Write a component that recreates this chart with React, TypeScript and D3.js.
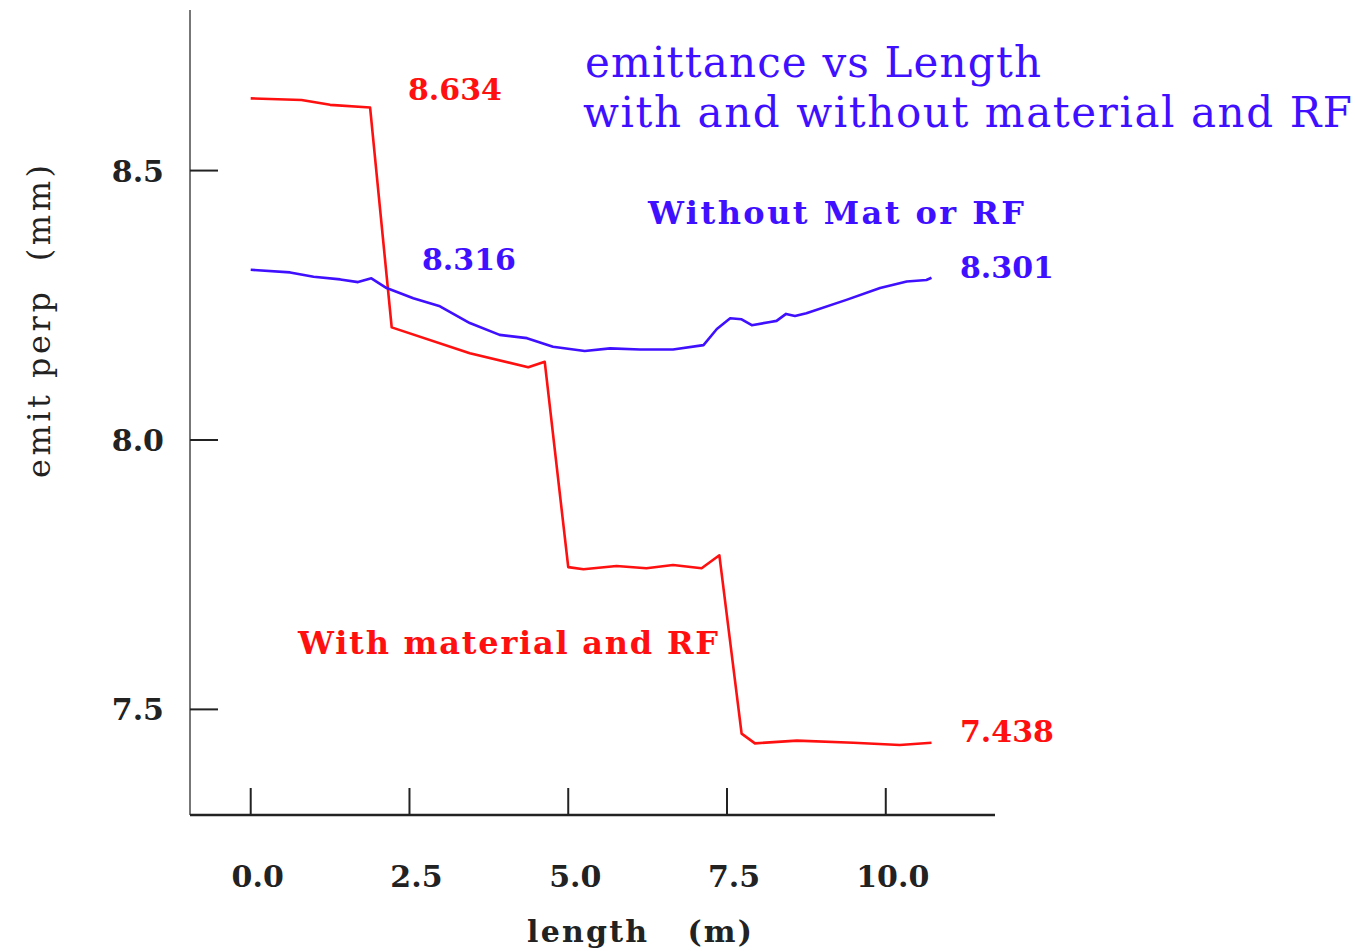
import React, { useEffect, useRef } from "react";
import * as d3 from "d3";

// length (m) / emit perp (mm)
const redX = [0, 0.8, 1.25, 1.88, 2.22, 3.45, 4.37, 4.63, 5.0, 5.24, 5.76, 6.23, 6.65, 7.1, 7.38, 7.73, 7.94, 8.6, 9.49, 10.22, 10.72];
const redY = [8.634, 8.631, 8.622, 8.617, 8.209, 8.161, 8.135, 8.145, 7.764, 7.76, 7.766, 7.762, 7.768, 7.762, 7.786, 7.455, 7.437, 7.442, 7.438, 7.434, 7.438];

const blueX = [0, 0.62, 0.99, 1.41, 1.69, 1.9, 2.14, 2.56, 2.98, 3.45, 3.92, 4.35, 4.76, 5.26, 5.66, 6.13, 6.65, 7.13, 7.34, 7.55, 7.73, 7.89, 8.18, 8.28, 8.43, 8.57, 8.75, 9.38, 9.91, 10.33, 10.64, 10.72];
const blueY = [8.316, 8.311, 8.303, 8.298, 8.293, 8.3, 8.282, 8.263, 8.248, 8.217, 8.195, 8.189, 8.173, 8.165, 8.17, 8.168, 8.168, 8.176, 8.206, 8.226, 8.224, 8.213, 8.219, 8.221, 8.234, 8.23, 8.235, 8.26, 8.282, 8.294, 8.297, 8.301];

const xTicks = [0, 2.5, 5, 7.5, 10];
const yTicks = [7.5, 8.0, 8.5];

const RED = "#ff1010";
const BLUE = "#3f10ff";
const FONT = "'DejaVu Serif', serif";

export default function App() {
  const ref = useRef<SVGSVGElement>(null);

  useEffect(() => {
    const width = 1355;
    const height = 951;
    const left = 190, right = 995, top = 10, bottom = 815;

    const x = d3.scaleLinear().domain([-0.956, 11.72]).range([left, right]);
    const y = d3.scaleLinear().domain([7.304, 8.798]).range([bottom, top]);

    const svg = d3.select(ref.current);
    svg.selectAll("*").remove();
    svg.attr("width", width).attr("height", height);

    // axes
    svg.append("line")
      .attr("x1", left).attr("x2", left).attr("y1", top).attr("y2", bottom)
      .attr("stroke", "#777").attr("stroke-width", 2);
    svg.append("line")
      .attr("x1", left).attr("x2", right).attr("y1", bottom).attr("y2", bottom)
      .attr("stroke", "#222").attr("stroke-width", 2.5);

    svg.selectAll(".xt").data(xTicks).enter().append("line")
      .attr("x1", (d) => x(d)).attr("x2", (d) => x(d))
      .attr("y1", bottom).attr("y2", bottom - 27)
      .attr("stroke", "#222").attr("stroke-width", 2);
    svg.selectAll(".xl").data(xTicks).enter().append("text")
      .attr("x", (d) => x(d) + 7).attr("y", 887)
      .attr("text-anchor", "middle")
      .style("font-family", FONT).style("font-weight", "bold").style("font-size", "30px")
      .attr("fill", "#222")
      .text((d) => d.toFixed(1));

    svg.selectAll(".yt").data(yTicks).enter().append("line")
      .attr("x1", left).attr("x2", left + 28)
      .attr("y1", (d) => y(d)).attr("y2", (d) => y(d))
      .attr("stroke", "#222").attr("stroke-width", 2);
    svg.selectAll(".yl").data(yTicks).enter().append("text")
      .attr("x", 164).attr("y", (d) => y(d) + 11)
      .attr("text-anchor", "end")
      .style("font-family", FONT).style("font-weight", "bold").style("font-size", "30px")
      .attr("fill", "#222")
      .text((d) => d.toFixed(1));

    // axis titles
    svg.append("text")
      .attr("x", 527).attr("y", 942)
      .attr("textLength", 225).attr("lengthAdjust", "spacing")
      .style("font-family", FONT).style("font-weight", "bold").style("font-size", "30px").attr("fill", "#222")
      .attr("xml:space", "preserve")
      .text("length   (m)");
    svg.append("text")
      .attr("transform", "translate(50,478) rotate(-90)")
      .attr("textLength", 313).attr("lengthAdjust", "spacing")
      .style("font-family", FONT).style("font-size", "32px").attr("fill", "#222")
      .attr("xml:space", "preserve")
      .text("emit perp  (mm)");

    // lines
    const line = d3.line<[number, number]>().x((d) => x(d[0])).y((d) => y(d[1]));
    const redPts = redX.map((v, i) => [v, redY[i]] as [number, number]);
    const bluePts = blueX.map((v, i) => [v, blueY[i]] as [number, number]);

    svg.append("path").attr("d", line(redPts)!).attr("fill", "none")
      .attr("stroke", RED).attr("stroke-width", 2.6).attr("stroke-linejoin", "round");
    svg.append("path").attr("d", line(bluePts)!).attr("fill", "none")
      .attr("stroke", BLUE).attr("stroke-width", 2.6).attr("stroke-linejoin", "round");

    // annotations: x, y, text, colour, width (0 = natural)
    const labels: [number, number, string, string, number][] = [
      [408, 100, "8.634", RED, 0],
      [422, 270, "8.316", BLUE, 0],
      [960, 278, "8.301", BLUE, 0],
      [960, 742, "7.438", RED, 0],
      [648, 224, "Without Mat or RF", BLUE, 376],
      [298, 654, "With material and RF", RED, 420],
    ];
    const ann = svg.selectAll(".ann").data(labels).enter().append("text")
      .attr("x", (d) => d[0]).attr("y", (d) => d[1])
      .style("font-family", FONT).style("font-weight", "bold")
      .style("font-size", (d) => (d[4] > 0 ? "32px" : "30px"))
      .attr("fill", (d) => d[3])
      .text((d) => d[2]);
    ann.filter((d) => d[4] > 0)
      .attr("textLength", (d) => d[4]).attr("lengthAdjust", "spacing");

    // title
    svg.append("text").attr("x", 585).attr("y", 77)
      .attr("textLength", 456).attr("lengthAdjust", "spacing")
      .style("font-family", FONT).style("font-size", "42px").attr("fill", BLUE)
      .text("emittance vs Length");
    svg.append("text").attr("x", 583).attr("y", 127)
      .attr("textLength", 769).attr("lengthAdjust", "spacing")
      .style("font-family", FONT).style("font-size", "42px").attr("fill", BLUE)
      .text("with and without material and RF");
  }, []);

  return <svg ref={ref} style={{ position: "absolute", left: 0, top: 0, background: "#fff" }}></svg>;
}
